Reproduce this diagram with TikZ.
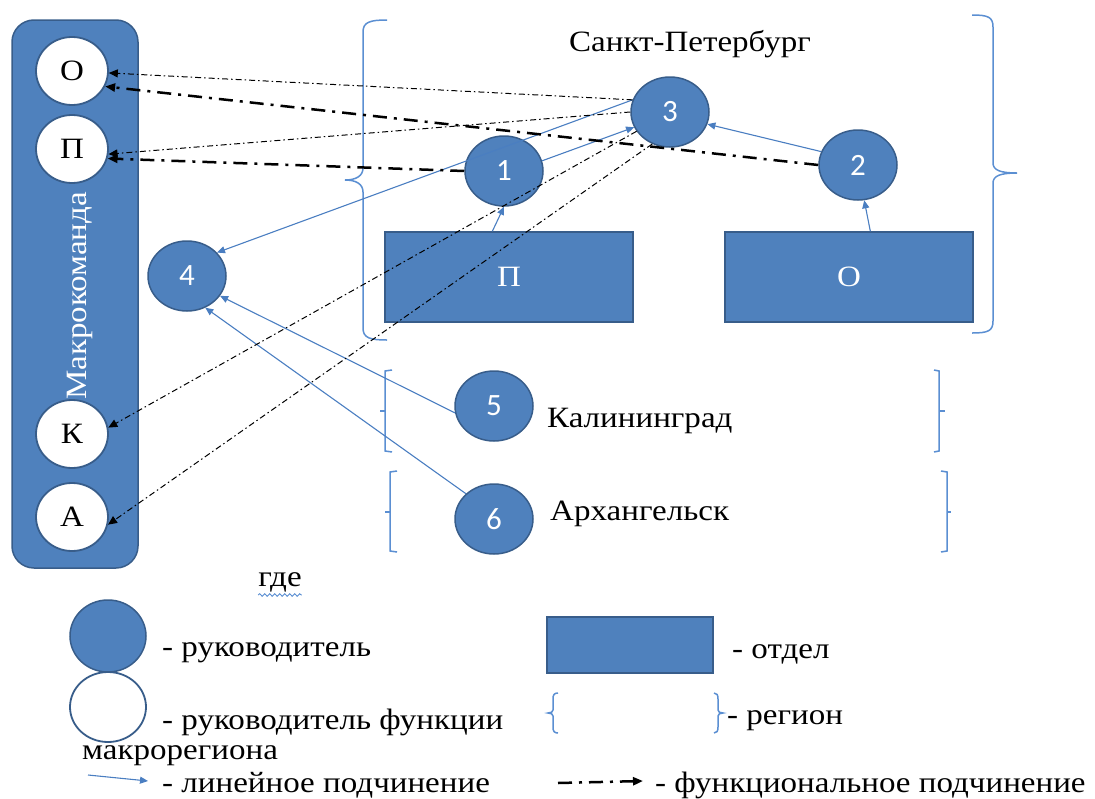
\documentclass[tikz,border=0pt]{standalone}
\usepackage{fontspec}
\setmainfont[FakeStretch=1.12]{Liberation Serif}
\newfontfamily\numfont{Carlito}
\usetikzlibrary{shapes.geometric, arrows.meta, positioning, decorations.pathmorphing}
\definecolor{myblue}{RGB}{79,129,189}
\definecolor{myedge}{RGB}{56,93,138}
\definecolor{mylink}{RGB}{74,126,193}
\definecolor{mybrace}{RGB}{91,143,210}
\newcommand{\bigtxt}{\fontsize{29.5pt}{33pt}\selectfont}
\tikzset{
  lead/.style={ellipse, draw=myedge, fill=myblue, minimum width=78pt,
    minimum height=70pt, inner sep=0pt, line width=1.5pt, text=white,
    font=\numfont\fontsize{31pt}{34pt}\selectfont},
  func/.style={ellipse, draw=myedge, fill=white, minimum width=72pt,
    minimum height=68pt, inner sep=0pt, line width=1.8pt, font=\bigtxt},
  dept/.style={rectangle, draw=myedge, fill=myblue, minimum width=248pt,
    minimum height=90pt, line width=1.5pt, text=white, font=\bigtxt},
  lbl/.style={font=\bigtxt, inner sep=0pt},
  linarrow/.style={-{Triangle[length=8pt,width=7pt]}, color=mylink, line width=1.1pt},
  funthin/.style={-{Triangle[length=9pt,width=8pt]}, line width=1pt,
    dash pattern=on 6pt off 3pt on 1.5pt off 3pt},
  funthick/.style={-{Triangle[length=10pt,width=8pt]}, line width=2.5pt,
    dash pattern=on 14pt off 7pt on 3pt off 7pt},
  region/.style={color=mybrace, line width=1.5pt}
}

\begin{document}
\begin{tikzpicture}[x=1pt, y=-1pt]
  \useasboundingbox (0,0) rectangle (1095,798);
  % macroteam
  \node[rectangle, draw=myedge, fill=myblue, rounded corners=22pt, line width=1.5pt,
    minimum width=126pt, minimum height=548pt] (mk) at (75,294) {};
  \node[lbl, text=white, rotate=90] (mkname) at (80,296) {Макрокоманда};
  \node[func] (wO) at (72,71) {О};
  \node[func] (wP) at (72,149) {П};
  \node[func] (wK) at (72,434) {К};
  \node[func] (wA) at (72,517) {А};

  % Saint Petersburg
  \draw[region] (387,20) .. controls (370,20) and (363,22) .. (363,32) -- (363,168)
    .. controls (363,176) and (356,180) .. (345,180) .. controls (356,180) and (363,184) .. (363,192)
    -- (363,328) .. controls (363,338) and (370,340) .. (387,340);
  \draw[region] (972,15) .. controls (988,15) and (993,17) .. (993,27) -- (993,163)
    .. controls (993,170) and (1000,173) .. (1017,173) .. controls (1000,173) and (993,176) .. (993,183)
    -- (993,321) .. controls (993,331) and (988,333) .. (972,333);
  \node[lbl] (spb) at (690,44) {Санкт-Петербург};
  \node[dept] (rP) at (509,277) {П};
  \node[dept] (rO) at (849,277) {О};
  \node[lead] (n3) at (670,112) {3};
  \node[lead] (n1) at (504,171) {1};
  \node[lead] (n2) at (858,165) {2};
  \node[lead] (n4) at (187,276) {4};

  % Kaliningrad, Arkhangelsk
  \draw[region] (392,370) -- (385,371) -- (385,451) -- (392,452);
  \draw[region] (385,411) -- (380,411);
  \draw[region] (934,370) -- (939,371) -- (939,451) -- (934,452);
  \draw[region] (939,411) -- (945,411);
  \draw[region] (397,471) -- (390,472) -- (390,551) -- (397,552);
  \draw[region] (390,512) -- (385,512);
  \draw[region] (941,471) -- (947,472) -- (947,551) -- (941,552);
  \draw[region] (947,512) -- (951,512);
  \node[lead] (n5) at (494,406) {5};
  \node[lead] (n6) at (494,519) {6};
  \node[lbl, anchor=west] (kal) at (547,421) {Калининград};
  \node[lbl, anchor=west] (arh) at (550,514) {Архангельск};

  % linear
  \draw[linarrow] (rP.110) -- (n1.south);
  \draw[linarrow] (rO.65) -- (n2.-80);
  \draw[linarrow] (n1.15) -- (n3.203);
  \draw[linarrow] (n2.160) -- (n3.-18);
  \draw[linarrow] (n3.162) -- (n4.38);
  \draw[linarrow] (n5.190) -- (n4.-31);
  \draw[linarrow] (n6.138) -- (n4.-60);

  % functional
  \draw[funthin] (n3.162) -- (wO.-3);
  \draw[funthin] (n3.180) -- (wP.-8);
  \draw[funthin] (n3.210) -- (wK.10);
  \draw[funthin] (n3.241) -- (wA.-12);
  \draw[funthick] (n2.west) -- (wO.-25);
  \draw[funthick] (n1.west) -- (wP.-15);

  % legend
  \node[lbl] (gde) at (280,582) {где};
  \draw[mybrace, line width=0.9pt, decorate, decoration={snake, amplitude=1.3pt, segment length=5pt}]
    ([yshift=-3pt]gde.south west) -- ([yshift=-3pt]gde.south east);
  \node[lead, minimum width=76pt, minimum height=72pt] (lgLead) at (108,636) {};
  \node[func, minimum width=76pt, minimum height=70pt] (lgFunc) at (108,707) {};
  \node[lbl, anchor=west] (lgLeadTxt) at (162,653) {- руководитель};
  \node[lbl, anchor=west] (lgFuncTxt) at (162,722) {- руководитель функции};
  \node[lbl, anchor=west] (lgMacro) at (82,756) {макрорегиона};
  \coordinate (lgLin1) at (88,775);
  \coordinate (lgLin2) at (148,781);
  \draw[linarrow] (lgLin1) -- (lgLin2);
  \node[lbl, anchor=west] (lgLinTxt) at (162,785) {- линейное подчинение};
  \node[dept, minimum width=166pt, minimum height=56pt] (lgDept) at (630,645) {};
  \node[lbl, anchor=west] (lgDeptTxt) at (732,654) {- отдел};
  \draw[region] (558,693) .. controls (554,693) and (553,695) .. (553,699) -- (553,710)
    .. controls (553,712) and (551,713) .. (548,713) .. controls (551,713) and (553,714) .. (553,716)
    -- (553,727) .. controls (553,731) and (554,733) .. (558,733);
  \draw[region] (714,693) .. controls (717,693) and (718,695) .. (718,699) -- (718,710)
    .. controls (718,712) and (720,713) .. (723,713) .. controls (720,713) and (718,714) .. (718,716)
    -- (718,727) .. controls (718,731) and (717,733) .. (714,733);
  \node[lbl, anchor=west] (lgRegTxt) at (727,721) {- регион};
  \coordinate (lgFun1) at (558,783);
  \coordinate (lgFun2) at (643,781);
  \draw[funthick] (lgFun1) -- (lgFun2);
  \node[lbl, anchor=west] (lgFunTxt) at (655,785) {- функциональное подчинение};
\end{tikzpicture}
\end{document}
